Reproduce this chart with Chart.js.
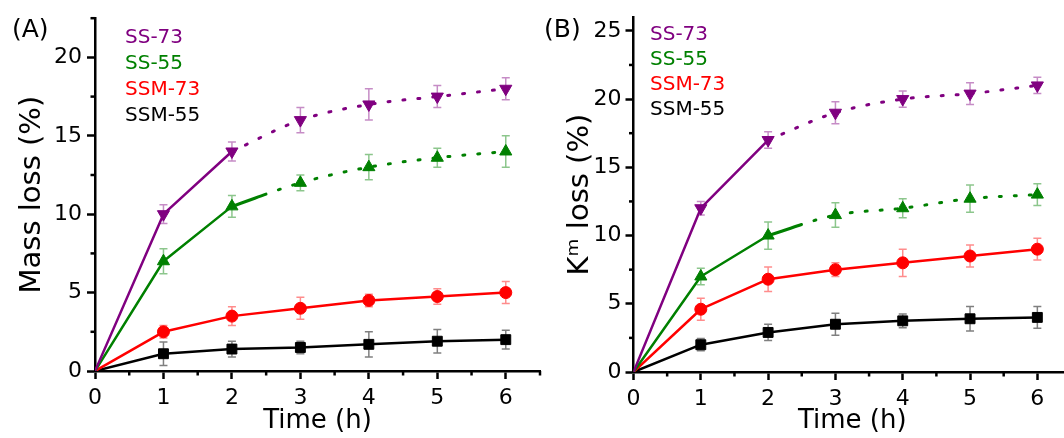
<!DOCTYPE html>
<html><head><meta charset="utf-8">
<script src="https://cdn.jsdelivr.net/npm/chart.js@4/dist/chart.umd.min.js"></script>
<style>
html,body{margin:0;padding:0;background:#fff;width:1064px;height:438px;overflow:hidden;position:relative}
canvas{position:absolute;top:0}
#cA{left:0}
#cB{left:530px}
</style></head><body>
<canvas id="cA" width="560" height="438"></canvas>
<canvas id="cB" width="570" height="438"></canvas>
<script>
// ---------------- data ----------------
const hours = [0, 1, 2, 3, 4, 5, 6];
const xTickLabels = [0, 1, 2, 3, 4, 5, 6];
const yTicksA = [0, 5, 10, 15, 20];
const yTicksB = [0, 5, 10, 15, 20, 25];
const seriesNames = ['SS-73', 'SS-55', 'SSM-73', 'SSM-55'];

// Panel A: mass loss (%)
const massSS73 = [0, 10, 14, 16, 17, 17.5, 18];
const massSS73Err = [0, 0.6, 0.6, 0.8, 1.0, 0.7, 0.7];
const massSS55 = [0, 7, 10.5, 12, 13, 13.6, 14];
const massSS55Err = [0, 0.8, 0.7, 0.5, 0.8, 0.6, 1.0];
const massSSM73 = [0, 2.5, 3.5, 4, 4.5, 4.75, 5];
const massSSM73Err = [0, 0.4, 0.6, 0.7, 0.4, 0.5, 0.7];
const massSSM55 = [0, 1.1, 1.4, 1.5, 1.7, 1.9, 2];
const massSSM55Err = [0, 0.75, 0.5, 0.4, 0.8, 0.75, 0.6];

// Panel B: K^m loss (%)
const kmSS73 = [0, 12, 17, 19, 20, 20.4, 21];
const kmSS73Err = [0, 0.5, 0.6, 0.8, 0.6, 0.8, 0.6];
const kmSS55 = [0, 7, 10, 11.5, 12, 12.7, 13];
const kmSS55Err = [0, 0.6, 1.0, 0.9, 0.7, 1.0, 0.8];
const kmSSM73 = [0, 4.6, 6.8, 7.5, 8, 8.5, 9];
const kmSSM73Err = [0, 0.8, 0.9, 0.5, 1.0, 0.8, 0.8];
const kmSSM55 = [0, 2, 2.9, 3.5, 3.75, 3.9, 4];
const kmSSM55Err = [0, 0.45, 0.6, 0.8, 0.5, 0.9, 0.8];

// ---------------- style ----------------
const colors = ['#800080', '#008000', '#ff0000', '#000000'];
const errColors = ['rgba(128,0,128,0.45)', 'rgba(0,128,0,0.45)', 'rgba(255,0,0,0.45)', 'rgba(0,0,0,0.5)'];
const markerStyle = [
  {pointStyle: 'triangle', rotation: 180, radius: 7},
  {pointStyle: 'triangle', rotation: 0, radius: 7},
  {pointStyle: 'circle', rotation: 0, radius: 6},
  {pointStyle: 'rect', rotation: 0, radius: 7}
];
const solidEnd = [2, 2.5, 6, 6]; // x where solid line turns dotted
const DOT = [2, 13];

Chart.defaults.font.family = 'DejaVu Sans';
Chart.defaults.color = '#000';

const errorBars = {
  id: 'errorBars',
  beforeDatasetsDraw(chart, args, opts) {
    const {ctx, scales: {x, y}} = chart;
    ctx.save();
    ctx.lineWidth = 1.5;
    opts.series.forEach((s, i) => {
      ctx.strokeStyle = errColors[i];
      s.values.forEach((v, j) => {
        const e = s.errors[j];
        if (!e) return;
        const px = x.getPixelForValue(hours[j]);
        const yt = y.getPixelForValue(v + e), yb = y.getPixelForValue(v - e);
        ctx.beginPath();
        ctx.moveTo(px, yt); ctx.lineTo(px, yb);
        ctx.moveTo(px - 4, yt); ctx.lineTo(px + 4, yt);
        ctx.moveTo(px - 4, yb); ctx.lineTo(px + 4, yb);
        ctx.stroke();
      });
    });
    ctx.restore();
  }
};

const decor = {
  id: 'decor',
  afterDraw(chart, args, opts) {
    const {ctx, chartArea: ca, scales: {x, y}} = chart;
    ctx.save();
    // minor ticks
    ctx.strokeStyle = '#000';
    ctx.lineWidth = 2.5;
    for (let v = 0.5; v <= x.max + 1e-9; v += 1) {
      const px = x.getPixelForValue(v);
      ctx.beginPath(); ctx.moveTo(px, ca.bottom); ctx.lineTo(px, ca.bottom + 4.5); ctx.stroke();
    }
    for (let v = 2.5; v <= y.max + 1e-9; v += 5) {
      const py = y.getPixelForValue(v);
      ctx.beginPath(); ctx.moveTo(ca.left, py); ctx.lineTo(ca.left - 4.5, py); ctx.stroke();
    }
    // legend text
    ctx.font = '20px "DejaVu Sans"';
    ctx.textBaseline = 'alphabetic';
    ctx.textAlign = 'left';
    seriesNames.forEach((n, i) => {
      ctx.fillStyle = colors[i];
      ctx.fillText(n, opts.legendX, opts.legendY + i * opts.legendDy);
    });
    // panel label
    ctx.fillStyle = '#000';
    ctx.font = '25px "DejaVu Sans"';
    ctx.fillText(opts.label, opts.labelX, opts.labelY);
    ctx.restore();
  }
};

function buildPanel(id, p) {
  const datasets = [];
  p.series.forEach((s, i) => {
    const pts = hours.map((h, j) => ({x: h, y: s.values[j]}));
    const end = solidEnd[i];
    const base = {borderColor: colors[i], backgroundColor: colors[i], borderWidth: 2.5,
      pointRadius: 0, pointHoverRadius: 0, fill: false, borderJoinStyle: 'round'};
    if (end >= hours[hours.length - 1]) {
      datasets.push(Object.assign({}, base, {data: pts, tension: 0}));
    } else {
      const k = Math.floor(end);
      const frac = end - k;
      datasets.push(Object.assign({}, base, {data: pts.slice(0, k + 1), tension: 0}));
      datasets.push(Object.assign({}, base, {
        data: pts.slice(k), cubicInterpolationMode: 'monotone', borderWidth: 3,
        borderCapStyle: 'round',
        segment: {
          borderDash: c => {
            if (c.p0DataIndex === 0 && frac > 0) {
              const len = Math.hypot(c.p1.x - c.p0.x, c.p1.y - c.p0.y);
              const pat = [len * frac, 13];
              for (let q = 0; q < 12; q++) pat.push(DOT[0], DOT[1]);
              return pat;
            }
            return DOT;
          }
        }
      }));
    }
  });
  p.series.forEach((s, i) => {
    const m = markerStyle[i];
    datasets.push({
      data: hours.slice(1).map((h, j) => ({x: h, y: s.values[j + 1]})),
      showLine: false, pointStyle: m.pointStyle, rotation: m.rotation,
      pointRadius: m.radius, pointHoverRadius: m.radius,
      pointBackgroundColor: colors[i], pointBorderColor: colors[i], pointBorderWidth: 1
    });
  });

  return new Chart(document.getElementById(id), {
    type: 'line',
    data: {datasets},
    plugins: [errorBars, decor],
    options: {
      responsive: false, animation: false, events: [],
      layout: {padding: p.padding},
      plugins: {
        legend: {display: false}, tooltip: {enabled: false},
        errorBars: {series: p.series},
        decor: p.decor
      },
      scales: {
        x: {
          type: 'linear', min: 0, max: 6.5,
          afterBuildTicks: sc => { sc.ticks = xTickLabels.map(v => ({value: v})); },
          afterFit: sc => { sc.height = p.xHeight; },
          ticks: {font: {size: 22}, padding: 6, color: '#000', maxRotation: 0, callback: v => String(v)},
          grid: {drawOnChartArea: false, drawTicks: true, tickLength: 8, tickWidth: 2.5, tickColor: '#000'},
          border: {display: true, color: '#000', width: 2.5},
          title: {display: true, text: 'Time (h)', font: {size: 26}, color: '#000', padding: {top: 0, bottom: 1}}
        },
        y: {
          type: 'linear', min: 0, max: p.yMax,
          afterBuildTicks: sc => { sc.ticks = p.yTicks.map(v => ({value: v})); },
          afterFit: sc => { sc.width = p.yWidth; },
          ticks: {font: {size: 22}, padding: p.yTickPad, color: '#000', callback: v => String(v)},
          grid: {drawOnChartArea: false, drawTicks: true, tickLength: 8, tickWidth: 2.5, tickColor: '#000'},
          border: {display: true, color: '#000', width: 2.5},
          title: {display: true, text: p.yTitle, font: {size: 29}, color: '#000', padding: {top: p.yTitlePad, bottom: 0}}
        }
      }
    }
  });
}

buildPanel('cA', {
  series: [
    {values: massSS73, errors: massSS73Err},
    {values: massSS55, errors: massSS55Err},
    {values: massSSM73, errors: massSSM73Err},
    {values: massSSM55, errors: massSSM55Err}
  ],
  yMax: 22.5, yTicks: yTicksA, yTitle: 'Mass loss (%)',
  padding: {top: 13, right: 20, left: 0, bottom: 0},
  xHeight: 67, yWidth: 95, yTickPad: 5, yTitlePad: 15,
  decor: {legendX: 125, legendY: 43, legendDy: 26, label: '(A)', labelX: 12, labelY: 37}
});

buildPanel('cB', {
  series: [
    {values: kmSS73, errors: kmSS73Err},
    {values: kmSS55, errors: kmSS55Err},
    {values: kmSSM73, errors: kmSSM73Err},
    {values: kmSSM55, errors: kmSSM55Err}
  ],
  yMax: 26, yTicks: yTicksB, yTitle: 'Kᵐ loss (%)',
  padding: {top: 17, right: 29, left: 0, bottom: 0},
  xHeight: 66, yWidth: 103.5, yTickPad: 4, yTitlePad: 33,
  decor: {legendX: 120, legendY: 40, legendDy: 25, label: '(B)', labelX: 14, labelY: 37}
});
</script>
</body></html>
